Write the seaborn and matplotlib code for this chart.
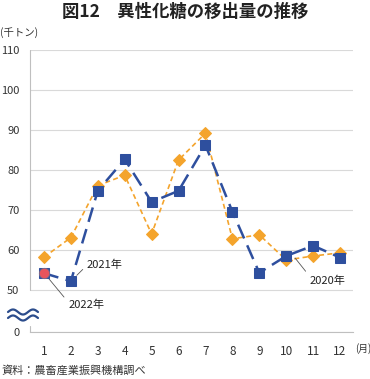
import numpy as np
import pandas as pd
import matplotlib
matplotlib.use("Agg")
import matplotlib.pyplot as plt
import seaborn as sns
from matplotlib.lines import Line2D

# データ（千トン）
months = list(range(1, 13))
y2020 = [58.2, 63.1, 76.1, 78.7, 64.0, 82.5, 89.2, 62.8, 63.8, 57.5, 58.5, 59.3]
y2021 = [54.2, 52.2, 74.8, 82.7, 72.0, 74.8, 86.2, 69.6, 54.3, 58.5, 61.1, 58.1]
months2022 = [1]
y2022 = [54.3]

ytick_vals = [50, 60, 70, 80, 90, 100, 110]
ymin = 39.5  # 軸の省略部分（0 の位置）

sns.set_style("white")
plt.rcParams['font.family'] = ['Noto Sans CJK JP', 'DejaVu Sans']

fig = plt.figure(figsize=(3.7, 3.79), dpi=100)
ax = fig.add_axes([0.0824, 0.124, 0.873, 0.744])

df20 = pd.DataFrame({"month": months, "value": y2020})
df21 = pd.DataFrame({"month": months, "value": y2021})
df22 = pd.DataFrame({"month": months2022, "value": y2022})

orange = "#f4a42c"
blue = "#2e4f9e"
red = "#e8545c"

sns.lineplot(data=df20, x="month", y="value", ax=ax, color=orange, lw=1.2,
             linestyle=(0, (3, 2)), marker="D", markersize=6,
             markeredgecolor=orange, zorder=3)
sns.lineplot(data=df21, x="month", y="value", ax=ax, color=blue, lw=1.8,
             linestyle=(0, (6, 3)), marker="s", markersize=7.5,
             markeredgecolor=blue, zorder=4)
sns.scatterplot(data=df22, x="month", y="value", ax=ax, color=red, marker="o",
                s=55, edgecolor="#7a6a8a", linewidth=0.6, zorder=5)

ax.set_xlim(0.5, 12.5)
ax.set_ylim(ymin, 110)
ax.set_xlabel("")
ax.set_ylabel("")

# 軸・目盛
ax.set_xticks(months)
ax.set_xticklabels([str(m) for m in months])
ax.set_xticks(np.arange(0.5, 13, 1), minor=True)
ax.set_yticks([ymin] + ytick_vals)
ax.set_yticklabels(["0"] + [str(v) for v in ytick_vals])
ax.tick_params(axis="x", which="major", length=0, pad=9, labelsize=8.5, colors="#333333")
ax.tick_params(axis="x", which="minor", length=4, width=0.8, color="#bfbfbf", direction="out")
ax.tick_params(axis="y", length=0, pad=8, labelsize=8, colors="#333333")
ax.grid(axis="y", color="#d9d9d9", lw=0.8)
ax.set_axisbelow(True)

for s in ["top", "right", "left"]:
    ax.spines[s].set_visible(False)
ax.spines["bottom"].set_color("#bfbfbf")
ax.spines["bottom"].set_linewidth(0.8)

# 左軸（省略部分あり）
frac50 = (50 - ymin) / (110 - ymin)
ax.add_line(Line2D([0, 0], [frac50, 1], transform=ax.transAxes, color="#bfbfbf",
                   lw=0.8, clip_on=False))
ax.add_line(Line2D([0, 0], [0, 0.022], transform=ax.transAxes, color="#bfbfbf",
                   lw=0.8, clip_on=False))

# 波線（省略記号）
wx = np.linspace(8, 38, 60)
for yc in [312, 318]:
    wy = yc - 2.5 * np.sin((wx - 8) / 30 * 3 * np.pi)
    fig.add_artist(Line2D(wx / 370, 1 - wy / 379, transform=fig.transFigure,
                          color="#2b4c8c", lw=1.6))

# 系列ラベル
arrow = dict(arrowstyle="-", color="#555555", lw=0.6, shrinkA=1)
ax.annotate("2021年", xy=(2, 52.2), xytext=(2.6, 56.2), fontsize=8,
            va="center", ha="left", color="#222222",
            arrowprops=dict(arrow, relpos=(0, 0.5), shrinkB=6))
ax.annotate("2022年", xy=(1, 54.3), xytext=(1.9, 46.2), fontsize=8,
            va="center", ha="left", color="#222222",
            arrowprops=dict(arrow, relpos=(0, 0.8), shrinkB=5))
ax.annotate("2020年", xy=(10.33, 58), xytext=(10.85, 52.3), fontsize=8,
            va="center", ha="left", color="#222222",
            arrowprops=dict(arrow, relpos=(0, 1), shrinkB=0))

# タイトル・注記
fig.text(0.5, 1 - 12 / 379, "図12　異性化糖の移出量の推移", ha="center", va="center",
         fontsize=12.5, fontweight="bold", color="#222222")
fig.text(0.0, 1 - 33 / 379, "(千トン)", ha="left", va="center", fontsize=7.5, color="#333333")
fig.text(355 / 370, 1 - 349 / 379, "(月)", ha="left", va="center", fontsize=7, color="#333333")
fig.text(2 / 370, 1 - 370 / 379, "資料：農畜産業振興機構調べ", ha="left", va="center",
         fontsize=8, color="#333333")

fig.savefig("out.png", dpi=100)
